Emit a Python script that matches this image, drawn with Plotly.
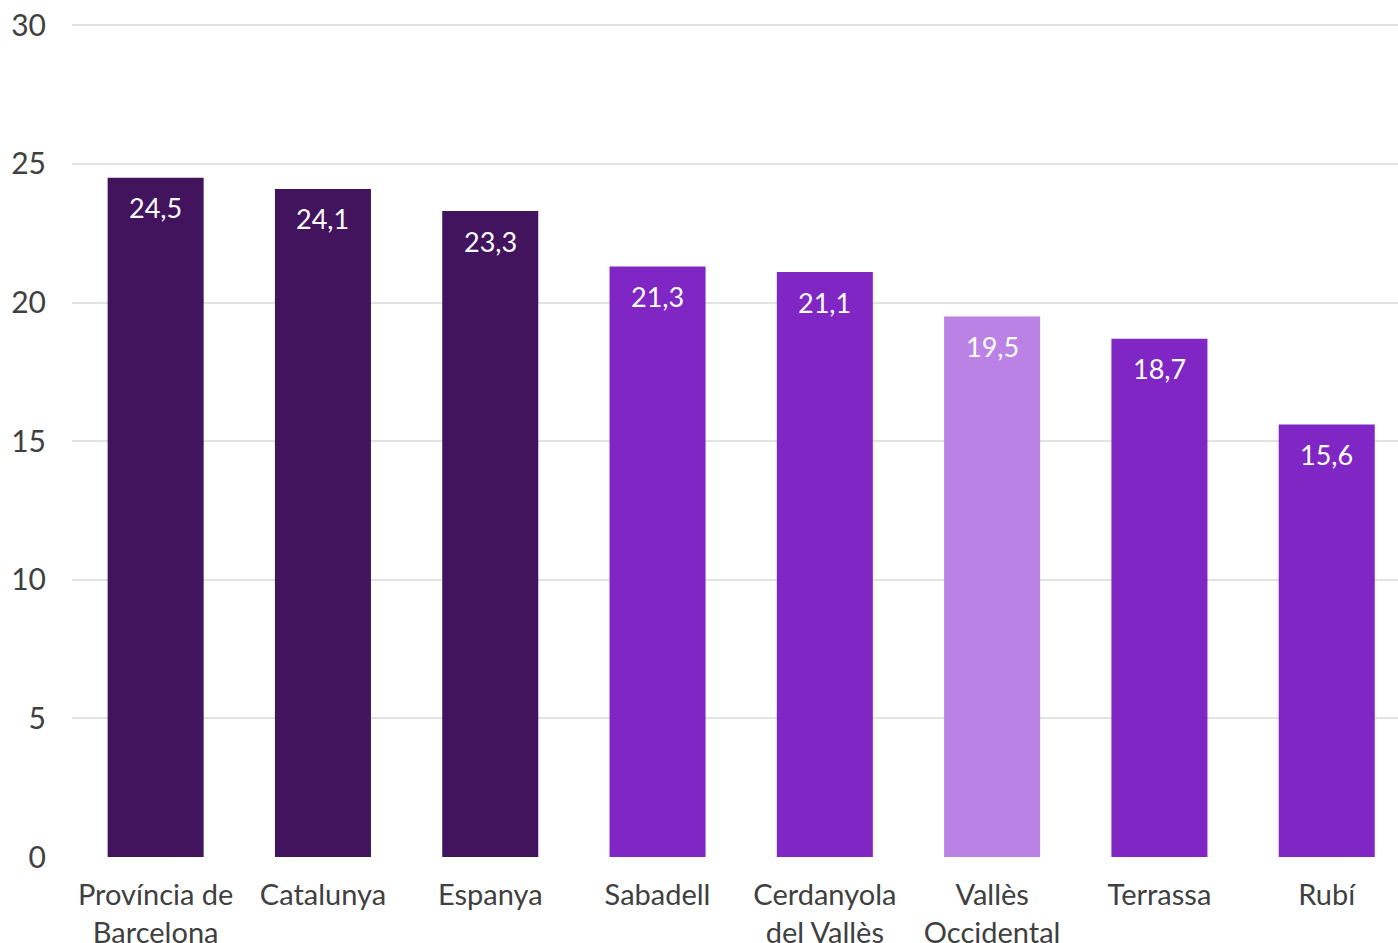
import plotly.graph_objects as go

categories = ["Província de<br>Barcelona", "Catalunya", "Espanya", "Sabadell",
              "Cerdanyola<br>del Vallès", "Vallès<br>Occidental", "Terrassa", "Rubí"]
values = [24.5, 24.1, 23.3, 21.3, 21.1, 19.5, 18.7, 15.6]
labels = ["24,5", "24,1", "23,3", "21,3", "21,1", "19,5", "18,7", "15,6"]
colors = ["#43145E", "#43145E", "#43145E", "#8026C4", "#8026C4", "#BB82E6", "#8026C4", "#8026C4"]

x = list(range(len(categories)))
fig = go.Figure()
fig.add_trace(go.Bar(x=x, y=values, marker=dict(color=colors, line=dict(width=0)),
                     width=0.574, hoverinfo="skip"))
for xi, v, t in zip(x, values, labels):
    fig.add_annotation(x=xi, y=v, text=t, showarrow=False, yshift=-30,
                       font=dict(family="Lato", size=27, color="white"))

fig.update_layout(
    width=1398, height=943,
    margin=dict(l=72, r=0, t=24, b=86),
    plot_bgcolor="white", paper_bgcolor="white",
    showlegend=False,
    font=dict(family="Lato", size=29, color="#404040"),
    xaxis=dict(tickmode="array", tickvals=x, ticktext=categories,
               range=[-0.5, 7.426], showgrid=False, zeroline=False, automargin=False,
               showline=False, ticks="", ticklabelstandoff=18,
               tickfont=dict(family="Lato", size=29, color="#404040")),
    yaxis=dict(range=[0, 30.05], tickvals=[0, 5, 10, 15, 20, 25, 30], showgrid=True,
               gridcolor="#E2E2E2", gridwidth=2, ticklabeloverflow="allow",
               zeroline=False, showline=False, ticks="", ticklabelstandoff=25, automargin=False,
               tickfont=dict(family="Lato", size=30, color="#404040")),
)
fig.write_html("out.html", config={"displayModeBar": False},
               post_script="document.body.style.margin='0';document.body.style.overflow='hidden';")
